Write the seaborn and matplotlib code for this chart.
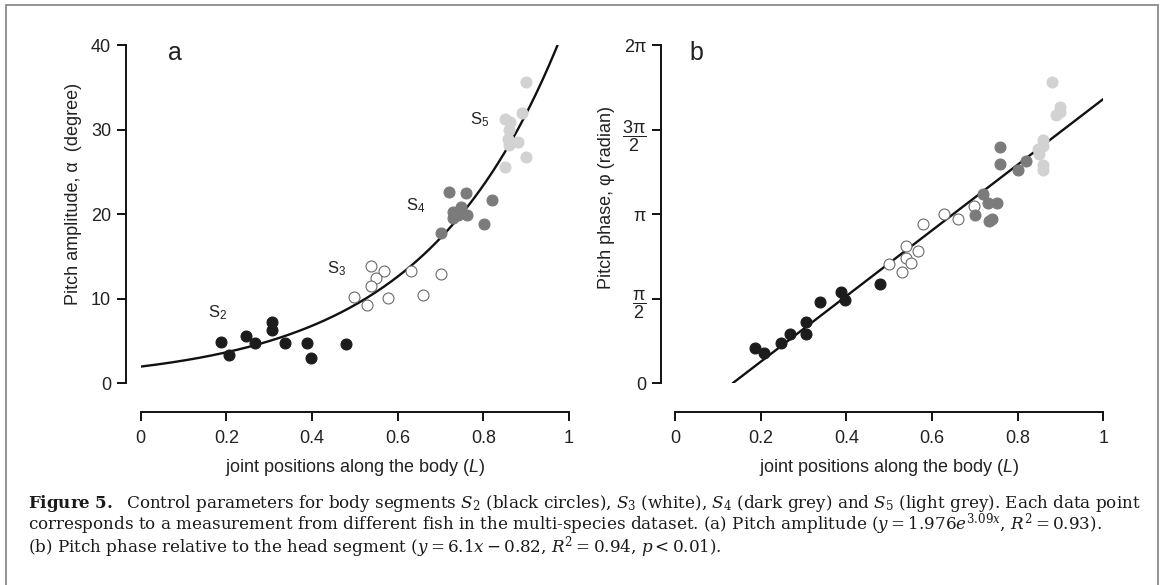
import numpy as np
import pandas as pd
import matplotlib.pyplot as plt
import seaborn as sns
from matplotlib.patches import Rectangle

# Panel a: pitch amplitude (degree) vs joint position
amp_s2_x = [0.187, 0.207, 0.247, 0.268, 0.307, 0.307, 0.338, 0.388, 0.398, 0.479]
amp_s2_y = [4.85, 3.35, 5.6, 4.8, 7.25, 6.3, 4.8, 4.8, 3.0, 4.65]
amp_s3_x = [0.538, 0.568, 0.549, 0.538, 0.499, 0.528, 0.578, 0.630, 0.660, 0.700]
amp_s3_y = [13.9, 13.3, 12.4, 11.55, 10.25, 9.2, 10.1, 13.3, 10.4, 12.9]
amp_s4_x = [0.720, 0.760, 0.821, 0.728, 0.749, 0.761, 0.730, 0.740, 0.801, 0.700]
amp_s4_y = [22.6, 22.5, 21.7, 20.2, 20.8, 19.9, 19.5, 19.9, 18.8, 17.75]
amp_s5_x = [0.900, 0.890, 0.851, 0.862, 0.860, 0.858, 0.880, 0.860, 0.900, 0.851]
amp_s5_y = [35.6, 31.95, 31.2, 30.95, 29.9, 28.9, 28.5, 28.2, 26.7, 25.6]

# Panel b: pitch phase (radian) vs joint position
ph_s2_x = [0.1875, 0.208, 0.248, 0.268, 0.307, 0.307, 0.339, 0.388, 0.398, 0.479]
ph_s2_y = [0.647, 0.554, 0.750, 0.917, 1.133, 0.924, 1.515, 1.70, 1.552, 1.853]
ph_s3_x = [0.499, 0.539, 0.568, 0.540, 0.550, 0.529, 0.579, 0.629, 0.660, 0.699]
ph_s3_y = [2.218, 2.543, 2.463, 2.321, 2.236, 2.062, 2.957, 3.142, 3.06, 3.29]
ph_s4_x = [0.720, 0.730, 0.751, 0.700, 0.732, 0.739, 0.759, 0.759, 0.800, 0.819]
ph_s4_y = [3.51, 3.345, 3.35, 3.134, 3.018, 3.055, 4.39, 4.077, 3.96, 4.13]
ph_s5_x = [0.880, 0.900, 0.889, 0.899, 0.860, 0.860, 0.848, 0.851, 0.860, 0.860]
ph_s5_y = [5.59, 5.124, 4.977, 5.032, 4.528, 4.404, 4.354, 4.262, 4.047, 3.955]

# fit coefficients from the caption
amp_a, amp_b = 1.976, 3.09
ph_slope, ph_icpt = 6.1, -0.82

segments = ['S2', 'S3', 'S4', 'S5']
face_colors = {'S2': '#1c1c1c', 'S3': 'white', 'S4': '#7b7b7b', 'S5': '#d2d2d2'}
edge_colors = {'S2': '#1c1c1c', 'S3': '#6a6a6a', 'S4': '#7b7b7b', 'S5': '#d2d2d2'}

amp_df = pd.DataFrame({
    'x': amp_s2_x + amp_s3_x + amp_s4_x + amp_s5_x,
    'y': amp_s2_y + amp_s3_y + amp_s4_y + amp_s5_y,
    'seg': ['S2'] * 10 + ['S3'] * 10 + ['S4'] * 10 + ['S5'] * 10,
})
ph_df = pd.DataFrame({
    'x': ph_s2_x + ph_s3_x + ph_s4_x + ph_s5_x,
    'y': ph_s2_y + ph_s3_y + ph_s4_y + ph_s5_y,
    'seg': ['S2'] * 10 + ['S3'] * 10 + ['S4'] * 10 + ['S5'] * 10,
})

sns.set_theme(style='ticks')
plt.rcParams['font.family'] = ['Liberation Sans', 'DejaVu Sans']
plt.rcParams['mathtext.fontset'] = 'custom'
plt.rcParams['mathtext.rm'] = 'Liberation Sans'
plt.rcParams['mathtext.it'] = 'Liberation Sans:italic'
plt.rcParams['mathtext.bf'] = 'Liberation Sans:bold'

fig = plt.figure(figsize=(11.65, 5.85), dpi=100)
W, H = 1165, 585
ax_a = fig.add_axes([140.7 / W, 1 - 383.3 / H, 428.3 / W, 338.3 / H])
ax_b = fig.add_axes([675 / W, 1 - 383.3 / H, 428.3 / W, 338.3 / H])

for ax, df in [(ax_a, amp_df), (ax_b, ph_df)]:
    for seg in segments:
        sub = df[df['seg'] == seg]
        sns.scatterplot(data=sub, x='x', y='y', ax=ax, s=62,
                        color=face_colors[seg], edgecolor=edge_colors[seg],
                        linewidth=0.8, zorder=3, legend=False)

# exponential fit for amplitude, clipped at the top of the axis
x_end = np.log(40 / amp_a) / amp_b
xa = np.linspace(0, x_end, 200)
sns.lineplot(x=xa, y=amp_a * np.exp(amp_b * xa), ax=ax_a, color='#111111', lw=1.7, zorder=2)

# linear fit for phase, from where it crosses zero
xb = np.linspace(-ph_icpt / ph_slope, 1, 50)
sns.lineplot(x=xb, y=ph_slope * xb + ph_icpt, ax=ax_b, color='#111111', lw=1.7, zorder=2)

x_ticks = [0, 0.2, 0.4, 0.6, 0.8, 1]
x_labels = ['0', '0.2', '0.4', '0.6', '0.8', '1']
amp_ticks = [0, 10, 20, 30, 40]
ph_ticks = [0, np.pi / 2, np.pi, 3 * np.pi / 2, 2 * np.pi]
ph_labels = ['0', r'$\dfrac{\mathrm{\pi}}{2}$', 'π', r'$\dfrac{3\mathrm{\pi}}{2}$', '2π']

ax_a.set_xlim(0, 1)
ax_a.set_ylim(0, 40)
ax_a.set_yticks(amp_ticks)
ax_b.set_xlim(0, 1)
ax_b.set_ylim(0, 2 * np.pi)
ax_b.set_yticks(ph_ticks)
ax_b.set_yticklabels(ph_labels)

for ax in (ax_a, ax_b):
    ax.set_xticks(x_ticks)
    ax.set_xticklabels(x_labels)
    ax.tick_params(axis='both', direction='out', length=6.7, width=1.4,
                   color='#111111', labelsize=13, labelcolor='#222222', pad=4)
    ax.tick_params(axis='x', pad=6.5)
    for sp in ('left', 'bottom'):
        ax.spines[sp].set_linewidth(1.4)
        ax.spines[sp].set_color('#111111')
    ax.set_xlabel(r'joint positions along the body ($L$)', fontsize=13, color='#222222')
    ax.xaxis.set_label_coords(0.5, -0.218)
    ax.patch.set_alpha(0)

sns.despine(ax=ax_a, offset={'left': 10.6, 'bottom': 20.4})
sns.despine(ax=ax_b, offset={'left': 10.1, 'bottom': 20.4})

ax_a.set_ylabel('Pitch amplitude, α  (degree)', fontsize=13, color='#222222')
ax_a.yaxis.set_label_coords(-0.137, 0.56)
ax_b.set_ylabel('Pitch phase, φ (radian)', fontsize=13, color='#222222')
ax_b.yaxis.set_label_coords(-0.14, 0.548)

# panel letters and segment labels
ax_a.text(0.08, 0.975, 'a', transform=ax_a.transAxes, fontsize=18, ha='center', va='center', color='#222222')
ax_b.text(0.051, 0.975, 'b', transform=ax_b.transAxes, fontsize=18, ha='center', va='center', color='#222222')
seg_label_pos = {'S2': (0.18, 8.4), 'S3': (0.457, 13.6), 'S4': (0.642, 21.0), 'S5': (0.792, 31.2)}
for seg, (lx, ly) in seg_label_pos.items():
    ax_a.text(lx, ly, 'S$_{\\mathrm{%s}}$' % seg[1], fontsize=12, ha='center', va='center', color='#222222')

# caption, one block of three lines
caption = '\n'.join([
    r'$\mathbf{Figure\ 5.}$  Control parameters for body segments $S_2$ (black circles), $S_3$ (white), '
    r'$S_4$ (dark grey) and $S_5$ (light grey). Each data point',
    r'corresponds to a measurement from different fish in the multi-species dataset. (a) Pitch amplitude '
    r'($y = 1.976e^{3.09x}$, $R^2 = 0.93$).',
    r'(b) Pitch phase relative to the head segment ($y = 6.1x - 0.82$, $R^2 = 0.94$, $p < 0.01$).',
])
fig.text(28 / W, 1 - 493 / H, caption, fontsize=12.1, family='DejaVu Serif', math_fontfamily='dejavuserif',
         color='#1a1a1a', va='top', ha='left', linespacing=0.83)

# grey frame around the figure
fig.patches.append(Rectangle((6 / W, -0.05), 1152 / W, 1.05 - 5 / H, transform=fig.transFigure,
                             fill=False, edgecolor='#8a8a8a', linewidth=1.3))

fig.savefig('out.png', dpi=100)
